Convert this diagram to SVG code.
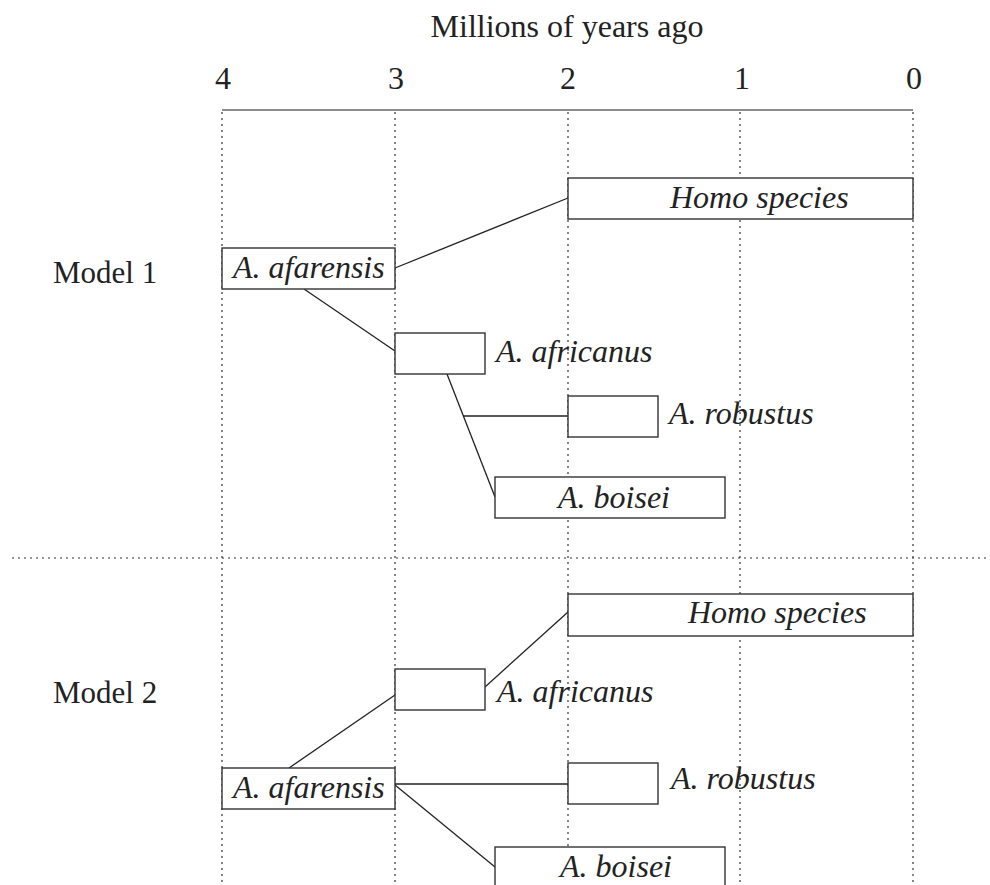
<svg xmlns="http://www.w3.org/2000/svg" width="990" height="885" viewBox="0 0 990 885">
<style>
.bg{fill:#fff}
.grid{stroke:#333;stroke-width:1.2;stroke-dasharray:2,4;fill:none}
.axis{stroke:#666;stroke-width:1.3;fill:none}
.box{fill:#fff;stroke:#333;stroke-width:1.4}
.conn{stroke:#222;stroke-width:1.3;fill:none}
.t{font-family:"Liberation Serif","Times New Roman",serif;fill:#222}
.up{font-size:31px}
.head{font-size:32px;text-anchor:middle}
.num{font-size:32px;text-anchor:middle}
.it{font-size:32px;font-style:italic}
</style>
<rect class="bg" x="0" y="0" width="990" height="885"/>
<g id="grid">
<line class="axis" x1="222" y1="110" x2="913" y2="110"/>
<line class="grid" x1="222" y1="112" x2="222" y2="885"/>
<line class="grid" x1="395" y1="112" x2="395" y2="885"/>
<line class="grid" x1="568" y1="112" x2="568" y2="885"/>
<line class="grid" x1="740" y1="112" x2="740" y2="885"/>
<line class="grid" x1="913" y1="112" x2="913" y2="885"/>
<line class="grid" x1="12" y1="558" x2="990" y2="558"/>
</g>
<g id="axis-labels">
<text class="t head" x="567" y="37">Millions of years ago</text>
<text class="t num" x="223" y="89">4</text>
<text class="t num" x="396" y="89">3</text>
<text class="t num" x="568" y="89">2</text>
<text class="t num" x="742" y="89">1</text>
<text class="t num" x="914" y="89">0</text>
<text class="t up" x="53" y="283">Model 1</text>
<text class="t up" x="53" y="703">Model 2</text>
</g>
<g id="connectors">
<line class="conn" x1="395" y1="268" x2="568" y2="198"/>
<line class="conn" x1="304" y1="289" x2="395" y2="351"/>
<line class="conn" x1="447" y1="374" x2="495" y2="497"/>
<line class="conn" x1="463" y1="416" x2="568" y2="416"/>
<line class="conn" x1="485" y1="687" x2="568" y2="612"/>
<line class="conn" x1="289" y1="768" x2="395" y2="695"/>
<line class="conn" x1="395" y1="784" x2="568" y2="784"/>
<line class="conn" x1="395" y1="785" x2="495" y2="867"/>
</g>
<g id="m1-homo"><rect class="box" x="568" y="178" width="345" height="41"/><text class="t it" x="670" y="208">Homo species</text></g>
<g id="m1-afarensis"><rect class="box" x="222" y="248" width="173" height="41"/><text class="t it" x="233" y="278">A. afarensis</text></g>
<g id="m1-africanus"><rect class="box" x="395" y="333" width="90" height="41"/><text class="t it" x="496" y="362">A. africanus</text></g>
<g id="m1-robustus"><rect class="box" x="568" y="396" width="90" height="41"/><text class="t it" x="669" y="424">A. robustus</text></g>
<g id="m1-boisei"><rect class="box" x="495" y="477" width="230" height="41"/><text class="t it" x="558" y="508">A. boisei</text></g>
<g id="m2-homo"><rect class="box" x="568" y="594" width="345" height="42"/><text class="t it" x="688" y="623">Homo species</text></g>
<g id="m2-africanus"><rect class="box" x="395" y="669" width="90" height="41"/><text class="t it" x="497" y="702">A. africanus</text></g>
<g id="m2-afarensis"><rect class="box" x="222" y="768" width="173" height="41"/><text class="t it" x="233" y="798">A. afarensis</text></g>
<g id="m2-robustus"><rect class="box" x="568" y="763" width="90" height="41"/><text class="t it" x="671" y="789">A. robustus</text></g>
<g id="m2-boisei"><rect class="box" x="495" y="847" width="230" height="45"/><text class="t it" x="560" y="877">A. boisei</text></g>
</svg>
